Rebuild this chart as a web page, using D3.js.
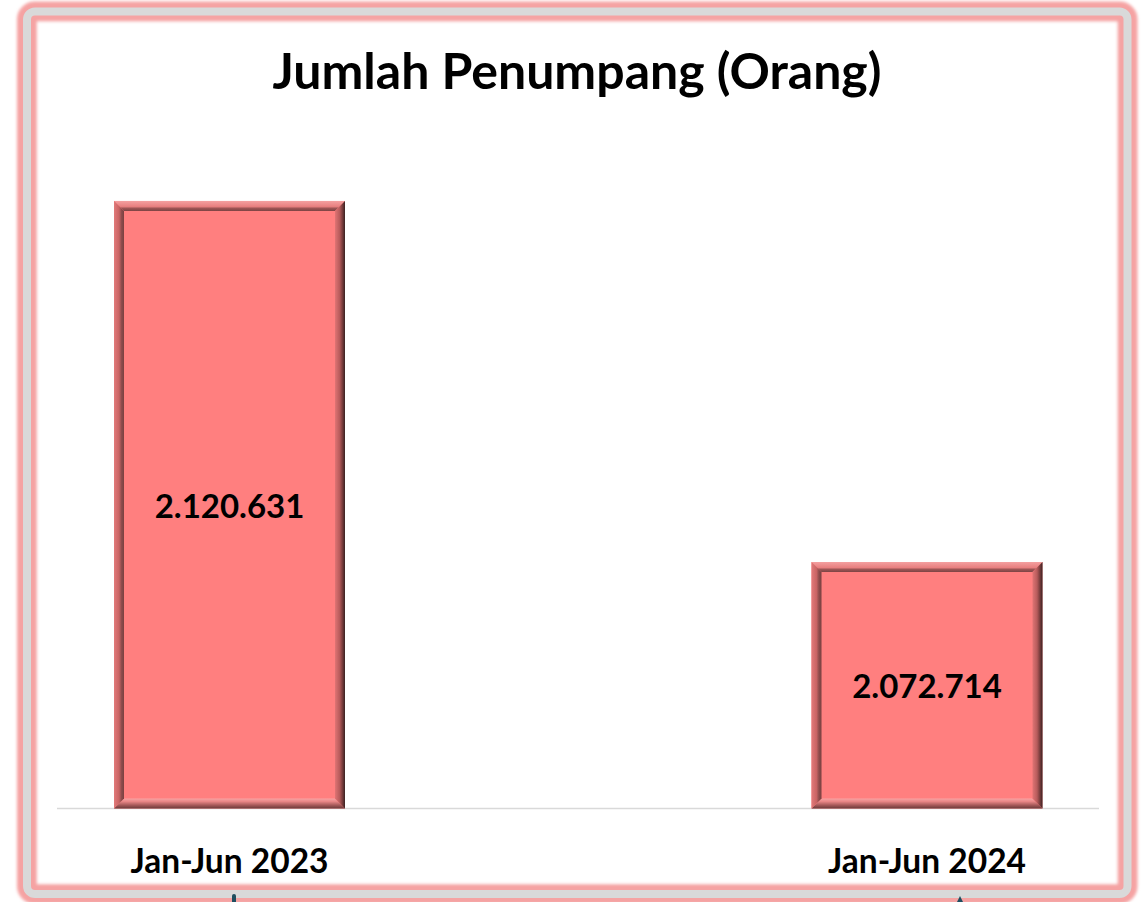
<!DOCTYPE html>
<html>
<head>
<meta charset="utf-8">
<script src="https://cdn.jsdelivr.net/npm/d3@7"></script>
<style>
  html, body { margin: 0; padding: 0; background: #ffffff; }
  svg { display: block; }
</style>
</head>
<body>
<script>
// Passenger totals, first half of the year
const categories = ["Jan-Jun 2023", "Jan-Jun 2024"];
const passengers = [2120631, 2072714];
const valueLabels = ["2.120.631", "2.072.714"];
const chartTitle = "Jumlah Penumpang (Orang)";
const valueDomain = [2040000, 2140000];

const W = 1143, H = 902;
const svg = d3.select("body").append("svg").attr("width", W).attr("height", H);
const defs = svg.append("defs");

// soft glow for the frame
defs.append("filter").attr("id", "glow").attr("x", "-5%").attr("y", "-5%").attr("width", "110%").attr("height", "110%")
  .append("feGaussianBlur").attr("stdDeviation", 1.6);

// frame: pink halo with a grey band on top
const frame = { x: 27, y: 11.5, w: 1100.5, h: 882.5, r: 8 };
svg.append("rect").attr("x", frame.x).attr("y", frame.y).attr("width", frame.w).attr("height", frame.h)
  .attr("rx", frame.r).attr("fill", "#ffffff").attr("stroke", "#f5a3a3").attr("stroke-width", 20)
  .attr("filter", "url(#glow)");
svg.append("rect").attr("x", frame.x).attr("y", frame.y).attr("width", frame.w).attr("height", frame.h)
  .attr("rx", frame.r).attr("fill", "none").attr("stroke", "#d9d9d9").attr("stroke-width", 8);

// small dark marks peeking below the frame
svg.append("rect").attr("x", 232).attr("y", 894).attr("width", 4).attr("height", 10).attr("rx", 2).attr("fill", "#1f4e5f");
svg.append("path").attr("d", "M957,902 L960,896 L963,902 Z").attr("fill", "#1f4e5f");

// scales
const baseY = 808.5, topY = 55;
const y = d3.scaleLinear().domain(valueDomain).range([baseY, topY]);
const x = d3.scalePoint().domain(categories).range([229.5, 927]);
const barW = 231;

// baseline
svg.append("line").attr("x1", 57).attr("x2", 1099).attr("y1", baseY).attr("y2", baseY)
  .attr("stroke", "#d9d9d9").attr("stroke-width", 1.5);

// bevel gradients
function grad(id, x1, y1, x2, y2, stops) {
  const g = defs.append("linearGradient").attr("id", id)
    .attr("x1", x1).attr("y1", y1).attr("x2", x2).attr("y2", y2);
  stops.forEach(s => g.append("stop").attr("offset", s[0]).attr("stop-color", s[1]));
}
grad("bvTop", 0, 0, 0, 1, [[0, "#f4a0a0"], [0.55, "#e88080"], [0.75, "#9c5454"], [1, "#7d4444"]]);
grad("bvLeft", 0, 0, 1, 0, [[0, "#e27a7a"], [0.5, "#c96464"], [0.75, "#8e4c4c"], [1, "#7a4040"]]);
grad("bvRight", 0, 0, 1, 0, [[0, "#e07474"], [0.45, "#b85c5c"], [0.8, "#6b3636"], [1, "#3a2222"]]);
grad("bvBottom", 0, 0, 0, 1, [[0, "#f7a4a4"], [0.3, "#e88686"], [0.7, "#a05656"], [1, "#6a3a3a"]]);

const face = "#ff7f7f";
const bv = 10;
const font = "Lato, 'Open Sans', sans-serif";

const bars = svg.append("g");
categories.forEach((c, i) => {
  const cx = x(c);
  const x0 = cx - barW / 2, x1 = cx + barW / 2;
  const y0 = y(passengers[i]), y1 = y(valueDomain[0]);
  const g = bars.append("g");
  g.append("rect").attr("x", x0).attr("y", y0).attr("width", x1 - x0).attr("height", y1 - y0).attr("fill", face);
  // top
  g.append("path").attr("d", `M${x0},${y0} L${x1},${y0} L${x1 - bv},${y0 + bv} L${x0 + bv},${y0 + bv} Z`)
    .attr("fill", "url(#bvTop)");
  // bottom
  g.append("path").attr("d", `M${x0 + bv},${y1 - bv} L${x1 - bv},${y1 - bv} L${x1},${y1} L${x0},${y1} Z`)
    .attr("fill", "url(#bvBottom)");
  // left
  g.append("path").attr("d", `M${x0},${y0} L${x0 + bv},${y0 + bv} L${x0 + bv},${y1 - bv} L${x0},${y1} Z`)
    .attr("fill", "url(#bvLeft)");
  // right
  g.append("path").attr("d", `M${x1 - bv},${y0 + bv} L${x1},${y0} L${x1},${y1} L${x1 - bv},${y1 - bv} Z`)
    .attr("fill", "url(#bvRight)");
  // value label
  g.append("text").attr("x", cx).attr("y", (y0 + y1) / 2)
    .attr("text-anchor", "middle").attr("dominant-baseline", "central")
    .attr("font-family", font).attr("font-weight", 700)
    .attr("font-size", 33).attr("fill", "#000").text(valueLabels[i]);
});

// category axis labels
svg.append("g").selectAll("text").data(categories).join("text")
  .attr("x", d => x(d)).attr("y", 860)
  .attr("text-anchor", "middle").attr("dominant-baseline", "central")
  .attr("font-family", font).attr("font-weight", 700)
  .attr("font-size", 33.5).attr("fill", "#000").text(d => d);

// title
svg.append("text").attr("x", 577).attr("y", 70)
  .attr("text-anchor", "middle").attr("dominant-baseline", "central")
  .attr("font-family", font).attr("font-weight", 700)
  .attr("font-size", 50).attr("fill", "#000").text(chartTitle);
</script>
</body>
</html>
